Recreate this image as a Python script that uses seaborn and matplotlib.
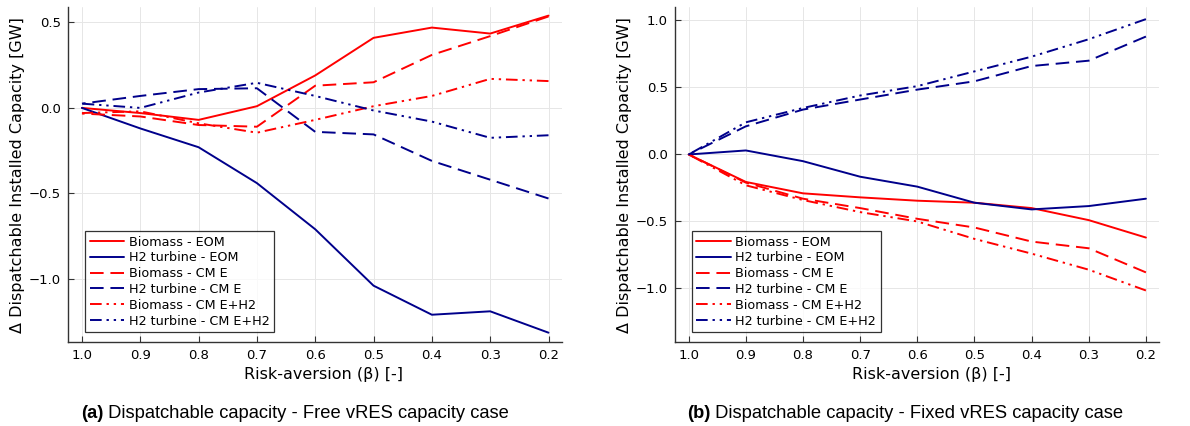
import numpy as np
import pandas as pd
import matplotlib
matplotlib.use("Agg")
import matplotlib.pyplot as plt
import seaborn as sns

sns.set_theme(style="white")
plt.rcParams['font.family'] = ['DejaVu Sans']
plt.rcParams['text.color'] = 'black'
plt.rcParams['axes.labelcolor'] = 'black'

beta = [1.0, 0.9, 0.8, 0.7, 0.6, 0.5, 0.4, 0.3, 0.2]

# Panel (a): Free vRES capacity case
a_bio_eom = [0.00, -0.03, -0.07, 0.01, 0.19, 0.41, 0.47, 0.435, 0.54]
a_h2_eom = [0.00, -0.12, -0.23, -0.44, -0.71, -1.04, -1.21, -1.19, -1.315]
a_bio_cme = [-0.033, -0.05, -0.10, -0.11, 0.13, 0.15, 0.31, 0.42, 0.535]
a_h2_cme = [0.025, 0.07, 0.11, 0.115, -0.14, -0.155, -0.31, -0.42, -0.53]
a_bio_cmeh2 = [-0.03, -0.02, -0.09, -0.145, -0.07, 0.01, 0.07, 0.17, 0.157]
a_h2_cmeh2 = [0.025, 0.0, 0.09, 0.147, 0.07, -0.015, -0.08, -0.175, -0.16]

# Panel (b): Fixed vRES capacity case
b_bio_eom = [0.00, -0.205, -0.29, -0.32, -0.345, -0.36, -0.40, -0.49, -0.62]
b_h2_eom = [0.00, 0.03, -0.05, -0.166, -0.24, -0.36, -0.41, -0.385, -0.33]
b_bio_cme = [0.00, -0.21, -0.33, -0.40, -0.48, -0.545, -0.65, -0.70, -0.88]
b_h2_cme = [0.00, 0.21, 0.335, 0.41, 0.484, 0.546, 0.66, 0.70, 0.88]
b_bio_cmeh2 = [0.00, -0.23, -0.34, -0.43, -0.50, -0.63, -0.74, -0.86, -1.015]
b_h2_cmeh2 = [0.00, 0.24, 0.347, 0.44, 0.51, 0.62, 0.73, 0.86, 1.01]

labels = ["Biomass - EOM", "H2 turbine - EOM", "Biomass - CM E",
          "H2 turbine - CM E", "Biomass - CM E+H2", "H2 turbine - CM E+H2"]
xticks = [1.0, 0.9, 0.8, 0.7, 0.6, 0.5, 0.4, 0.3, 0.2]
xticklabels = ["1.0", "0.9", "0.8", "0.7", "0.6", "0.5", "0.4", "0.3", "0.2"]

RED = "#ff0000"
BLUE = "#00008b"
colors = [RED, BLUE, RED, BLUE, RED, BLUE]
styles = ["-", "-", (0, (7, 3.5)), (0, (7, 3.5)),
          (0, (6, 2.5, 1.2, 2.5, 1.2, 2.5)), (0, (6, 2.5, 1.2, 2.5, 1.2, 2.5))]

fig = plt.figure(figsize=(11.9, 4.26), dpi=100)
axA = fig.add_axes([0.0571, 0.197, 0.4151, 0.7864])
axB = fig.add_axes([0.5672, 0.197, 0.4068, 0.7864])

panels = [
    (axA, [a_bio_eom, a_h2_eom, a_bio_cme, a_h2_cme, a_bio_cmeh2, a_h2_cmeh2],
     (-1.37, 0.59), [-1.0, -0.5, 0.0, 0.5], 0.518),
    (axB, [b_bio_eom, b_h2_eom, b_bio_cme, b_h2_cme, b_bio_cmeh2, b_h2_cmeh2],
     (-1.40, 1.10), [-1.0, -0.5, 0.0, 0.5, 1.0], 0.53),
]

for ax, series, ylim, yticks, xlab_x in panels:
    for vals, lab, c, ls in zip(series, labels, colors, styles):
        df = pd.DataFrame({"beta": beta, "val": vals})
        sns.lineplot(data=df, x="beta", y="val", ax=ax, color=c, linestyle=ls,
                     linewidth=1.4, label=lab, legend=False)
    ax.set_xlim(1.024, 0.177)
    ax.set_ylim(*ylim)
    ax.set_xticks(xticks)
    ax.set_xticklabels(xticklabels)
    ax.set_yticks(yticks)
    ax.set_yticklabels([f"{v:.1f}".replace("-", "\u2212") for v in yticks])
    ax.grid(True, color="#e6e6e6", linewidth=0.7)
    for s in ["top", "right"]:
        ax.spines[s].set_visible(False)
    for s in ["left", "bottom"]:
        ax.spines[s].set_color("#333333")
        ax.spines[s].set_linewidth(1.0)
    ax.tick_params(axis="both", direction="in", length=4, width=0.8,
                   colors="#333333", labelsize=9.5, labelcolor="black",
                   left=True, bottom=True, pad=5)
    ax.set_xlabel("Risk-aversion (\u03b2) [-]", fontsize=11.5, labelpad=4)
    ax.xaxis.set_label_coords(xlab_x, -0.075)
    ax.set_ylabel("\u0394 Dispatchable Installed Capacity [GW]", fontsize=11.5,
                  labelpad=3)
    leg = ax.legend(loc="lower left", bbox_to_anchor=(0.035, 0.03), fontsize=9.2,
                    frameon=True, fancybox=False, handlelength=2.7,
                    handletextpad=0.35, borderpad=0.35, labelspacing=0.22,
                    borderaxespad=0.0)
    leg.get_frame().set_edgecolor("black")
    leg.get_frame().set_linewidth(0.9)
    for t in leg.get_texts():
        t.set_color("black")

cap_font = ['Liberation Sans', 'DejaVu Sans']
fs = 13.2
ta = fig.text(81 / 1190, 0.019, "(a)", fontsize=fs, fontweight="bold",
              family=cap_font, ha="left", va="baseline", color="black")
tb = fig.text(687 / 1190, 0.019, "(b)", fontsize=fs, fontweight="bold",
              family=cap_font, ha="left", va="baseline", color="black")
fig.canvas.draw()
r = fig.canvas.get_renderer()
for t, rest in [(ta, " Dispatchable capacity - Free vRES capacity case"),
                (tb, " Dispatchable capacity - Fixed vRES capacity case")]:
    bb = t.get_window_extent(renderer=r)
    fig.text(bb.x1 / fig.bbox.width, 0.019, rest, fontsize=fs,
             family=cap_font, ha="left", va="baseline", color="black")

fig.savefig("out.png", dpi=100)
